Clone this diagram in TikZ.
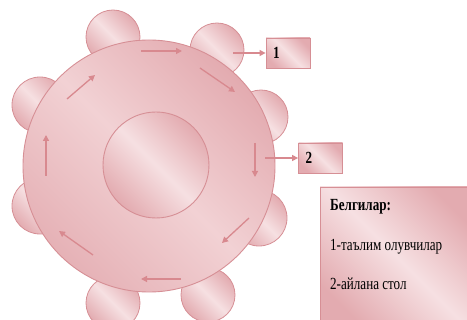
\documentclass[tikz,border=0pt]{standalone}
\usepackage{fontspec}
\usepackage{graphicx}
\setmainfont{Liberation Serif}
\usetikzlibrary{arrows.meta}
\definecolor{pklight}{HTML}{F6E0E2}
\definecolor{pkdark}{HTML}{E3ABB0}
\definecolor{pkmid}{HTML}{F0CBCE}
\definecolor{pkborder}{HTML}{D68F95}
\definecolor{pkarrow}{HTML}{D8898F}
\pgfdeclarehorizontalshading{pinkband}{100bp}{color(0bp)=(pkdark); color(25bp)=(pkdark); color(50bp)=(pklight); color(75bp)=(pkdark); color(100bp)=(pkdark)}
\pgfdeclarehorizontalshading{pinksoft}{100bp}{color(0bp)=(pkdark); color(25bp)=(pkdark!80!pkmid); color(50bp)=(pkmid!70!pklight); color(75bp)=(pkdark); color(100bp)=(pkdark)}
\tikzset{
  chair/.style={circle, draw=pkborder, line width=0.8pt, shading=pinkband, shading angle=45, minimum size=#1, inner sep=0pt},
  chair/.default=54pt,
  arr/.style={draw=pkarrow, line width=1.3pt, -{Triangle[length=6pt,width=6pt]}},
  numbox/.style={rectangle, draw=pkborder, line width=0.8pt, shading=pinkband, shading angle=45, minimum height=30pt, text width=30pt, inner xsep=7pt, align=left, font=\fontsize{17}{18}\selectfont\bfseries},
  legtext/.style={anchor=base west, inner sep=0pt, font=\fontsize{17}{20}\selectfont}
}
\newcommand{\cond}[1]{\scalebox{0.77}[1]{#1}}
\begin{document}
\begin{tikzpicture}[x=1pt,y=-1pt]
\useasboundingbox (0,0) rectangle (467,320);
% chairs
\node[chair] (c1) at (113,37) {};
\node[chair] (c2) at (217,50) {};
\node[chair] (c3) at (261,117) {};
\node[chair=56pt] (c4) at (259,218) {};
\node[chair] (c5) at (208,295) {};
\node[chair] (c6) at (113,303) {};
\node[chair=56pt] (c7) at (40,206) {};
\node[chair=56pt] (c8) at (40,105) {};
% table
\node[circle, draw=pkborder, line width=0.9pt, shading=pinksoft, shading angle=45, minimum size=252pt, inner sep=0pt] (table) at (149,166) {};
\node[circle, draw=pkborder, line width=0.9pt, shading=pinkband, shading angle=45, minimum size=106pt, inner sep=0pt] (inner) at (156,165) {};
% circulation arrows
\coordinate (a1s) at (141,51); \coordinate (a1e) at (182,51);
\coordinate (a2s) at (200,68); \coordinate (a2e) at (235,92);
\coordinate (a3s) at (255,143); \coordinate (a3e) at (255,177);
\coordinate (a4s) at (249,218); \coordinate (a4e) at (222,243);
\coordinate (a5s) at (181,279); \coordinate (a5e) at (141,279);
\coordinate (a6s) at (93,255); \coordinate (a6e) at (59,231);
\coordinate (a7s) at (46,176); \coordinate (a7e) at (46,135);
\coordinate (a8s) at (67,99); \coordinate (a8e) at (95,75);
\foreach \i in {1,...,8} {\draw[arr] (a\i s) -- (a\i e);}
% boxes
\node[numbox] (b1) at (288,53) {\cond{1}};
\node[numbox] (b2) at (320.5,158) {\cond{2}};
\coordinate (p1) at (233,53);
\coordinate (p2) at (265,158);
\draw[arr] (p1) -- (b1.west);
\draw[arr] (p2) -- (b2.west);
% legend
\shade[shading=pinkband, shading angle=45] (320,187) rectangle (475,328);
\draw[pkborder, line width=0.8pt] (320,328) -- (320,187) -- (475,187);
\node[legtext, font=\fontsize{17}{20}\selectfont\bfseries] (l0) at (330,211) {\cond{Белгилар:}};
\node[legtext] (l1) at (330,251) {\cond{1-таълим олувчилар}};
\node[legtext] (l2) at (330,290) {\cond{2-айлана стол}};
\end{tikzpicture}
\end{document}
